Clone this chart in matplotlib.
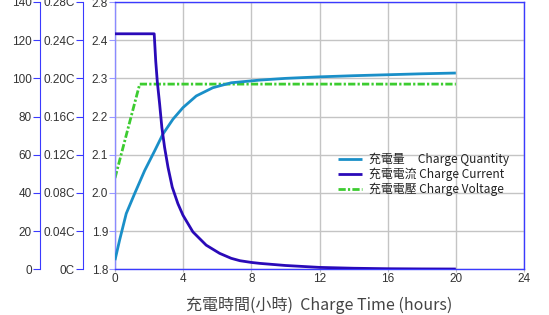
import matplotlib.pyplot as plt
from matplotlib.ticker import FixedLocator, FixedFormatter

# charge quantity (%), left-most axis
q_hours = [0, 0.27, 0.66, 1.15, 1.74, 2.33, 2.81, 3.40, 3.99, 4.77, 5.74, 6.82, 7.9, 8.5, 10, 12, 14, 16, 18, 20]
q_vals = [4.8, 15.3, 29.2, 39.6, 51.7, 62.1, 70.8, 78.6, 84.7, 90.8, 95.1, 97.7, 98.6, 99.1, 100.0, 100.8,
          101.4, 101.9, 102.4, 102.8]

# charge current (C), middle axis
i_hours = [0, 2.30, 2.39, 2.48, 2.62, 2.75, 2.91, 3.11, 3.36, 3.69, 3.99, 4.57, 5.35, 6.14, 6.82, 7.33,
           8.0, 8.5, 10, 12, 14, 16, 18, 20]
i_vals = [0.2467, 0.2467, 0.218, 0.197, 0.173, 0.1485, 0.1277, 0.1069, 0.086, 0.0688, 0.0566, 0.0392,
          0.0253, 0.0167, 0.0115, 0.0090, 0.0072, 0.0062, 0.0040, 0.0020, 0.0011, 0.0006, 0.0004, 0.0003]

# charge voltage (V), plot axis
v_hours = [0, 0.4, 0.8, 1.2, 1.45, 20]
v_vals = [2.039, 2.107, 2.175, 2.243, 2.285, 2.285]

v_ticks = [1.8, 1.9, 2.0, 2.1, 2.2, 2.3, 2.4, 2.5]
v_labels = ['1.8', '1.9', '2.0', '2.1', '2.2', '2.3', '2.4', '2.8']
q_ticks = [0, 20, 40, 60, 80, 100, 120, 140]
i_ticks = [0, 0.04, 0.08, 0.12, 0.16, 0.20, 0.24, 0.28]
i_labels = ['0C', '0.04C', '0.08C', '0.12C', '0.16C', '0.20C', '0.24C', '0.28C']
x_ticks = [0, 4, 8, 12, 16, 20, 24]

plt.rcParams['font.family'] = ['Liberation Sans', 'DejaVu Sans']
cjk = ['Noto Sans CJK TC', 'DejaVu Sans']

fig = plt.figure(figsize=(5.49, 3.15), dpi=100)
ax = fig.add_axes([115 / 549, 1 - 269.3 / 315, 409 / 549, 267.3 / 315])

spine_blue = '#3a3aff'
text_col = '#333333'

# main (voltage) axis
ax.set_xlim(0, 24)
ax.set_ylim(1.8, 2.5)
ax.yaxis.set_major_locator(FixedLocator(v_ticks))
ax.yaxis.set_major_formatter(FixedFormatter(v_labels))
ax.set_xticks(x_ticks)
ax.grid(True, color='#c4c4c4', linewidth=1)
ax.set_axisbelow(True)
for s in ax.spines.values():
    s.set_color(spine_blue)
    s.set_linewidth(1)
ax.spines['left'].set_color('#8a8aff')
ax.tick_params(axis='y', colors='#9a9aff', labelcolor=text_col, labelsize=8.5, length=4, pad=1)
ax.tick_params(axis='x', colors='#c4c4c4', labelcolor=text_col, labelsize=8.5, length=2, pad=1)

# quantity axis
axq = ax.twinx()
axq.set_ylim(0, 140)
axq.set_yticks(q_ticks)
# current axis
axi = ax.twinx()
axi.set_ylim(0, 0.28)
axi.yaxis.set_major_locator(FixedLocator(i_ticks))
axi.yaxis.set_major_formatter(FixedFormatter(i_labels))

for a, pos in ((axq, (40 - 115) / 409), (axi, (83 - 115) / 409)):
    for side in ('top', 'right', 'bottom'):
        a.spines[side].set_visible(False)
    a.spines['left'].set_visible(True)
    a.spines['left'].set_position(('axes', pos))
    a.spines['left'].set_color(spine_blue)
    a.yaxis.set_ticks_position('left')
    a.yaxis.set_label_position('left')
    a.tick_params(axis='y', colors=spine_blue, labelcolor=text_col, labelsize=8.5, length=5, pad=1)

l3, = ax.plot(v_hours, v_vals, color='#3ccc30', linewidth=2.0, linestyle=(0, (2.6, 0.8, 0.8, 0.8)))
l1, = axq.plot(q_hours, q_vals, color='#1a8fc8', linewidth=2.0, solid_capstyle='butt')
l2, = axi.plot(i_hours, i_vals, color='#2a0ab8', linewidth=2.0, solid_capstyle='butt')

ax.set_xlabel('充電時間(小時)  Charge Time (hours)', family=cjk, fontsize=11.5, color='#444444', labelpad=8)

leg = fig.legend([l1, l2, l3],
                 ['充電量     Charge Quantity', '充電電流 Charge Current', '充電電壓 Charge Voltage'],
                 loc='upper left', bbox_to_anchor=(338 / 549, 1 - 153 / 315), frameon=False,
                 prop={'family': cjk, 'size': 8.6}, handlelength=2.0, handletextpad=0.6,
                 labelspacing=0.12, borderpad=0, borderaxespad=0)
for t in leg.get_texts():
    t.set_color('#222222')

fig.savefig('out.png', dpi=100)
